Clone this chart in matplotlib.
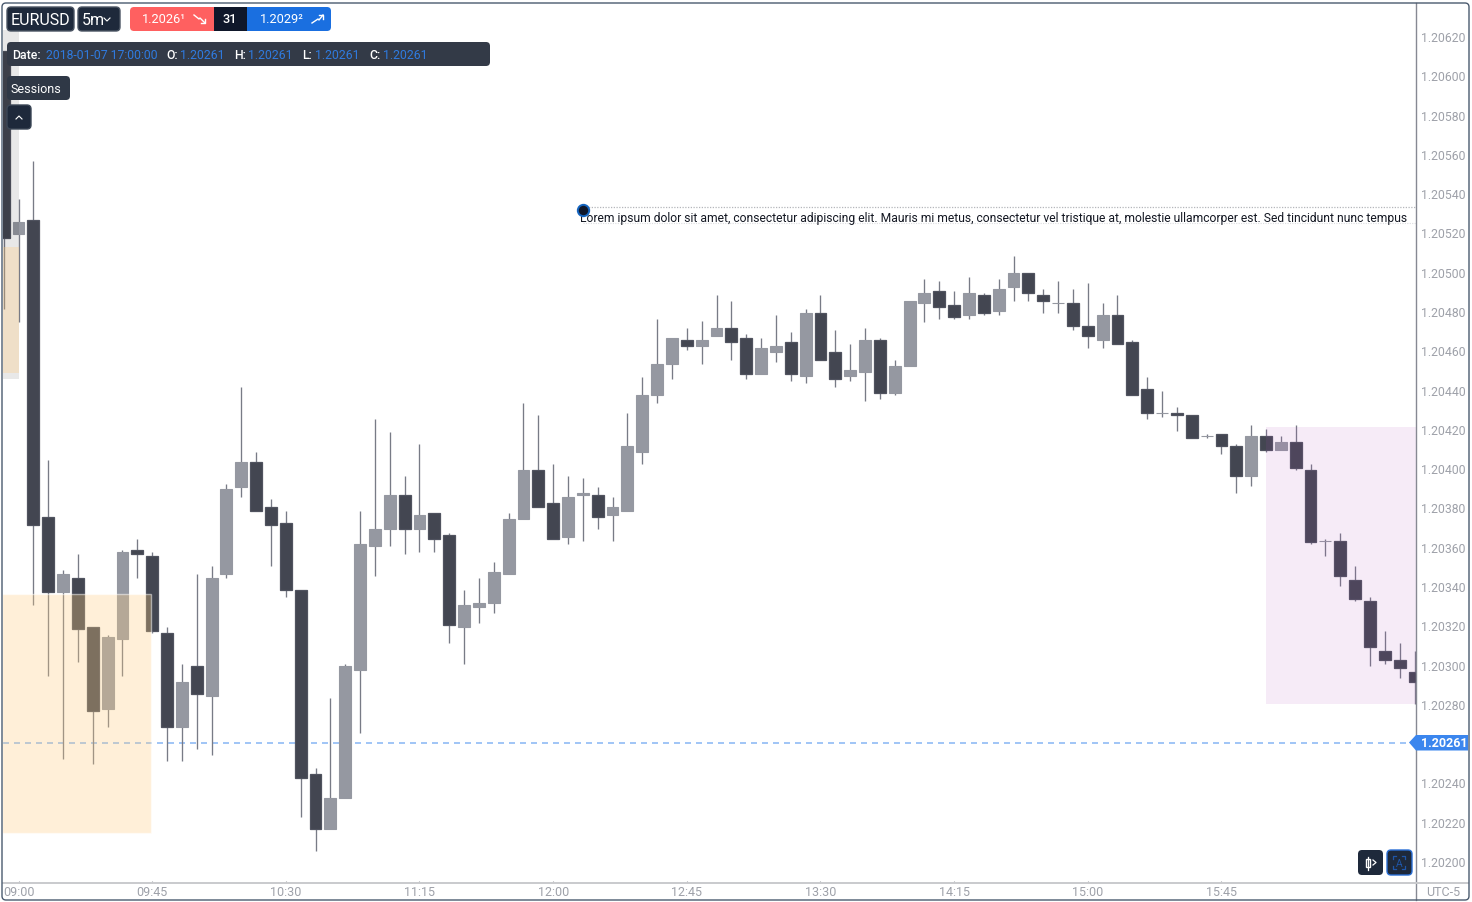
import matplotlib as mpl, numpy as np
mpl.use('Agg')
import matplotlib.pyplot as plt
from matplotlib.patches import FancyBboxPatch, Rectangle, Polygon
from matplotlib.transforms import ScaledTranslation

plt.rcParams['font.family'] = ['Roboto', 'DejaVu Sans']

# 5 minute candles, first one sits just off the left edge
opens = [1.20613, 1.20520, 1.20527, 1.20376, 1.20338, 1.20345, 1.20320, 1.20278, 1.20314, 1.20359, 1.20356, 1.20317, 1.20269, 1.20300, 1.20285, 1.20347, 1.20391, 1.20404, 1.20381, 1.20373, 1.20339, 1.20245, 1.20217, 1.20233, 1.20298, 1.20361, 1.20370, 1.20387, 1.20370, 1.20378, 1.20367, 1.20320, 1.20330, 1.20332, 1.20347, 1.20375, 1.20400, 1.20383, 1.20366, 1.20387, 1.20387, 1.20377, 1.20379, 1.20409, 1.20438, 1.20454, 1.20466, 1.20463, 1.20468, 1.20472, 1.20467, 1.20449, 1.20460, 1.20465, 1.20448, 1.20480, 1.20460, 1.20448, 1.20450, 1.20466, 1.20439, 1.20453, 1.20485, 1.20491, 1.20484, 1.20479, 1.20489, 1.20481, 1.20493, 1.20500, 1.20489, 1.20485, 1.20485, 1.20473, 1.20466, 1.20479, 1.20465, 1.20441, 1.20429, 1.20429, 1.20428, 1.20417, 1.20418, 1.20412, 1.20397, 1.20417, 1.20410, 1.20414, 1.20400, 1.20364, 1.20364, 1.20344, 1.20333, 1.20308, 1.20303, 1.20297]
closes = [1.20518, 1.20526, 1.20372, 1.20338, 1.20347, 1.20319, 1.20277, 1.20315, 1.20358, 1.20357, 1.20318, 1.20269, 1.20292, 1.20286, 1.20345, 1.20390, 1.20404, 1.20379, 1.20372, 1.20339, 1.20243, 1.20217, 1.20233, 1.20300, 1.20362, 1.20370, 1.20387, 1.20370, 1.20377, 1.20365, 1.20321, 1.20331, 1.20332, 1.20348, 1.20375, 1.20400, 1.20381, 1.20365, 1.20386, 1.20388, 1.20376, 1.20381, 1.20412, 1.20438, 1.20454, 1.20467, 1.20463, 1.20466, 1.20472, 1.20465, 1.20449, 1.20462, 1.20463, 1.20449, 1.20480, 1.20456, 1.20446, 1.20451, 1.20466, 1.20439, 1.20453, 1.20486, 1.20490, 1.20483, 1.20478, 1.20490, 1.20480, 1.20492, 1.20500, 1.20490, 1.20486, 1.20485, 1.20473, 1.20468, 1.20479, 1.20464, 1.20438, 1.20429, 1.20429, 1.20428, 1.20416, 1.20417, 1.20412, 1.20397, 1.20417, 1.20410, 1.20414, 1.20401, 1.20363, 1.20364, 1.20346, 1.20334, 1.20310, 1.20303, 1.20299, 1.20292]
highs = [1.20613, 1.20538, 1.20557, 1.20405, 1.20349, 1.20357, 1.20320, 1.20316, 1.20359, 1.20365, 1.20358, 1.20320, 1.20301, 1.20347, 1.20351, 1.20393, 1.20442, 1.20409, 1.20385, 1.20379, 1.20339, 1.20248, 1.20284, 1.20301, 1.20379, 1.20426, 1.20419, 1.20397, 1.20413, 1.20378, 1.20368, 1.20339, 1.20345, 1.20353, 1.20378, 1.20434, 1.20428, 1.20403, 1.20397, 1.20396, 1.20391, 1.20386, 1.20429, 1.20447, 1.20477, 1.20467, 1.20472, 1.20476, 1.20489, 1.20486, 1.20469, 1.20467, 1.20479, 1.20470, 1.20482, 1.20489, 1.20471, 1.20464, 1.20472, 1.20467, 1.20456, 1.20486, 1.20497, 1.20496, 1.20491, 1.20498, 1.20490, 1.20497, 1.20509, 1.20500, 1.20492, 1.20496, 1.20492, 1.20495, 1.20485, 1.20489, 1.20466, 1.20447, 1.20440, 1.20432, 1.20428, 1.20418, 1.20418, 1.20413, 1.20423, 1.20421, 1.20417, 1.20423, 1.20403, 1.20365, 1.20368, 1.20351, 1.20335, 1.20318, 1.20312, 1.20308]
lows = [1.20482, 1.20475, 1.20331, 1.20295, 1.20253, 1.20302, 1.20250, 1.20269, 1.20295, 1.20345, 1.20317, 1.20252, 1.20252, 1.20258, 1.20255, 1.20345, 1.20386, 1.20379, 1.20351, 1.20335, 1.20223, 1.20206, 1.20217, 1.20233, 1.20266, 1.20346, 1.20361, 1.20357, 1.20358, 1.20358, 1.20312, 1.20301, 1.20322, 1.20327, 1.20347, 1.20375, 1.20381, 1.20365, 1.20362, 1.20364, 1.20370, 1.20364, 1.20379, 1.20403, 1.20434, 1.20446, 1.20461, 1.20454, 1.20468, 1.20456, 1.20446, 1.20449, 1.20455, 1.20445, 1.20444, 1.20456, 1.20442, 1.20445, 1.20435, 1.20436, 1.20438, 1.20453, 1.20475, 1.20477, 1.20477, 1.20477, 1.20479, 1.20479, 1.20486, 1.20486, 1.20480, 1.20480, 1.20471, 1.20462, 1.20462, 1.20464, 1.20438, 1.20426, 1.20427, 1.20420, 1.20416, 1.20416, 1.20408, 1.20388, 1.20392, 1.20409, 1.20410, 1.20400, 1.20362, 1.20356, 1.20341, 1.20333, 1.20300, 1.20301, 1.20294, 1.20281]

time_labels = ['09:00', '09:45', '10:30', '11:15', '12:00', '12:45', '13:30', '14:15', '15:00', '15:45']
time_bars = [0, 9, 18, 27, 36, 45, 54, 63, 72, 81]
price_ticks = [1.20620, 1.20600, 1.20580, 1.20560, 1.20540, 1.20520, 1.20500, 1.20480, 1.20460, 1.20440, 1.20420, 1.20400, 1.20380, 1.20360, 1.20340, 1.20320, 1.20300, 1.20280, 1.20240, 1.20220, 1.20200]
last_price = 1.20261

note_bar = 38
note_dot_price = 1.205325
note_line_price = 1.205338
note_under_price = 1.205254
note_text_price = 1.205285
note_text = 'Lorem ipsum dolor sit amet, consectetur adipiscing elit. Mauris mi metus, consectetur vel tristique at, molestie ullamcorper est. Sed tincidunt nunc tempus'

W, H = 1472, 903
DARK = '#434651'
GRAY = '#9598a1'
LABEL = '#9ea1a9'

fig = plt.figure(figsize=(W / 100, H / 100), dpi=100, facecolor='white')
ax = fig.add_axes([3 / W, 1 - 882 / H, 1413 / W, 879 / H])
ax.set_xlim(-1.044, 94.1)
ax.set_ylim(1.2019066, 1.2063816)
for s in ax.spines.values():
    s.set_visible(False)

# candles
xs = np.arange(len(opens)) - 1
o, c = np.array(opens), np.array(closes)
up = c >= o
ax.vlines(xs, lows, highs, color='#787b86', lw=0.95, zorder=2)
ax.bar(xs[up], (c - o)[up], bottom=o[up], width=0.8, color=GRAY, edgecolor=GRAY, lw=0.8, zorder=3)
ax.bar(xs[~up], (o - c)[~up], bottom=c[~up], width=0.8, color=DARK, edgecolor='#50535f', lw=0.9, zorder=3)

# last price line
ax.axhline(last_price, color='#90bbf5', lw=1.2, dashes=(3.6, 3.0), zorder=1)

# session boxes
ax.add_patch(Rectangle((-1.1, 1.20446), 1.1, 0.00178, fc=(0, 0, 0, 0.09), ec='none', zorder=4))
ax.add_patch(Rectangle((-1.1, 1.204495), 1.1, 0.000641, fc=(1, 0.808, 0.506, 0.31), ec='none', zorder=4))
ax.add_patch(Rectangle((-1.1, 1.20215), 10.05, 0.00122, fc=(1, 0.808, 0.506, 0.31), ec=(1, 1, 1, 0.5), lw=1, zorder=4))
ax.add_patch(Rectangle((84, 1.20281), 11, 0.00141, fc=(0.671, 0.278, 0.737, 0.105), ec='none', zorder=4))

# note
ax.plot([note_bar, 94.1], [note_line_price, note_line_price], color='#b4b6bb', lw=0.9, ls=(0, (1, 1.2)), zorder=5)
ax.plot([note_bar, 94.1], [note_under_price, note_under_price], color='#dcdde0', lw=0.8, ls=(0, (1, 1.2)), zorder=5)
ax.text(note_bar - 0.2, note_text_price, note_text, fontsize=8.78, color='#131722', va='center', ha='left', clip_on=True, zorder=6)
ax.plot([note_bar], [note_dot_price], 'o', ms=8.2, mfc='#0f172a', mec='#1565c0', mew=1.4, zorder=7)

# axes labels
ax.yaxis.tick_right()
ax.set_yticks(price_ticks)
ax.set_yticklabels(['%.5f' % p for p in price_ticks])
ax.set_xticks(time_bars)
ax.set_xticklabels(time_labels)
ax.tick_params(axis='y', length=0, pad=3.6, labelsize=8.8, labelcolor=LABEL)
ax.tick_params(axis='x', length=1.5, width=0.8, color='#9a9ca3', pad=1.1, labelsize=9, labelcolor=LABEL)
lift = ScaledTranslation(0, 1.22 / 72, fig.dpi_scale_trans)
for lbl in ax.get_yticklabels():
    lbl.set_transform(lbl.get_transform() + lift)

# interface pieces are placed in picture pixels
ui = fig.add_axes([0, 0, 1, 1], zorder=10)
ui.set_xlim(0, W)
ui.set_ylim(H - 1, -1)
ui.axis('off')
ui.patch.set_alpha(0)


def box(x0, y0, x1, y1, fc, ec='none', r=4, lw=1, z=2):
    ui.add_patch(FancyBboxPatch((x0 + r, y0 + r), x1 - x0 - 2 * r, y1 - y0 - 2 * r,
                                boxstyle='round,pad=%d,rounding_size=%d' % (r, r), fc=fc, ec=ec, lw=lw, zorder=z))


def label(x, y, s, color='white', size=9, ha='left', weight='normal'):
    ui.text(x, y, s, color=color, fontsize=size, ha=ha, va='center', weight=weight, zorder=5)


# separators and frame
ui.plot([1416, 1416], [3, 900], color='#868993', lw=1, zorder=1)
ui.plot([3, 1468], [883, 883], color='#c9cacd', lw=1.4, zorder=1)
box(2, 3, 1469, 900, 'none', ec='#4a5a6e', r=4, lw=1, z=9)
label(1443, 891.5, 'UTC-5', color=LABEL, size=9, ha='center')

# top left buttons
box(7, 7, 74, 31, '#1e293b', ec='#4b5563')
label(40.5, 19, 'EURUSD', size=11.5, ha='center')
box(78, 7, 120, 31, '#1e293b', ec='#4b5563')
label(82, 19, '5m', size=11.5)
ui.plot([104, 107, 110], [18, 21, 18], color='white', lw=0.8, zorder=5)

box(130, 7, 180, 31, '#ff6060', r=4)
ui.add_patch(Rectangle((170, 7), 44, 24, fc='#ff6060', ec='none', zorder=2))
ui.add_patch(Rectangle((214, 7), 33, 24, fc='#0f172a', ec='none', zorder=2))
box(280, 7, 331, 31, '#1a6fe0', r=4)
ui.add_patch(Rectangle((247, 7), 45, 24, fc='#1a6fe0', ec='none', zorder=2))
label(142, 18.5, '1.2026\u00b9', size=9.2)
label(230, 18.5, '31', size=9.2, ha='center', weight='medium')
label(260, 18.5, '1.2029\u00b2', size=9.2)
ui.plot([194, 199, 200, 205], [15, 19, 18, 23], color='white', lw=1, zorder=5)
ui.plot([201, 205, 205], [23, 23, 19], color='white', lw=1, zorder=5)
ui.plot([312, 318, 319, 323], [23, 19, 20, 15], color='white', lw=1, zorder=5)
ui.plot([319, 323, 323], [15, 15, 19], color='white', lw=1, zorder=5)

# ohlc panel
box(7, 42, 490, 66, '#333a47')
BLUE = '#2f7be0'
value = '%.5f' % last_price
label(12, 54.5, 'Date:', size=8.85, weight='medium')
label(46, 54.5, '2018-01-07 17:00:00', color=BLUE, size=8.85)
for lx, name, vx in [(166, 'O:', 180), (234, 'H:', 248), (302, 'L:', 315), (369, 'C:', 383)]:
    label(lx, 54.5, name, size=8.85, weight='medium')
    label(vx, 54.5, value, color=BLUE, size=8.85)

box(7, 76, 70, 100, '#2f3846')
label(10.5, 88.5, 'Sessions', size=9)
box(7, 105, 31, 129, '#1e293b', ec='#3b4656')
ui.plot([16, 19, 22], [119, 116, 119], color='white', lw=0.8, zorder=5)

# last price flag
ui.add_patch(Polygon([(1409, 742.5), (1416, 735), (1468, 735), (1468, 750.5), (1416, 750.5)], fc='#3b86ee', ec='none', zorder=3))
label(1421.5, 742.5, '%.5f' % last_price, size=9, weight='bold')

# bottom right buttons
box(1358, 850, 1383, 875, '#1e293b')
ui.add_patch(Rectangle((1365.5, 859), 4, 8, fc='none', ec='white', lw=1, zorder=5))
ui.plot([1367.5, 1367.5], [856.5, 869.5], color='white', lw=0.9, zorder=4)
ui.plot([1373, 1376, 1373], [860, 862.5, 865], color='white', lw=0.9, zorder=5)
box(1387, 850, 1412, 875, '#1e293b', ec='#2a6fd6')
for sx, sy, dx, dy in [(1393, 856, 1, 1), (1405, 856, -1, 1), (1393, 869, 1, -1), (1405, 869, -1, -1)]:
    ui.plot([sx + 3 * dx, sx, sx], [sy, sy, sy + 3 * dy], color='#1f56a8', lw=0.9, zorder=5)
label(1399, 863, 'A', color='#1f56a8', size=7.5, ha='center')

fig.savefig('out.png', dpi=100, facecolor='white')
